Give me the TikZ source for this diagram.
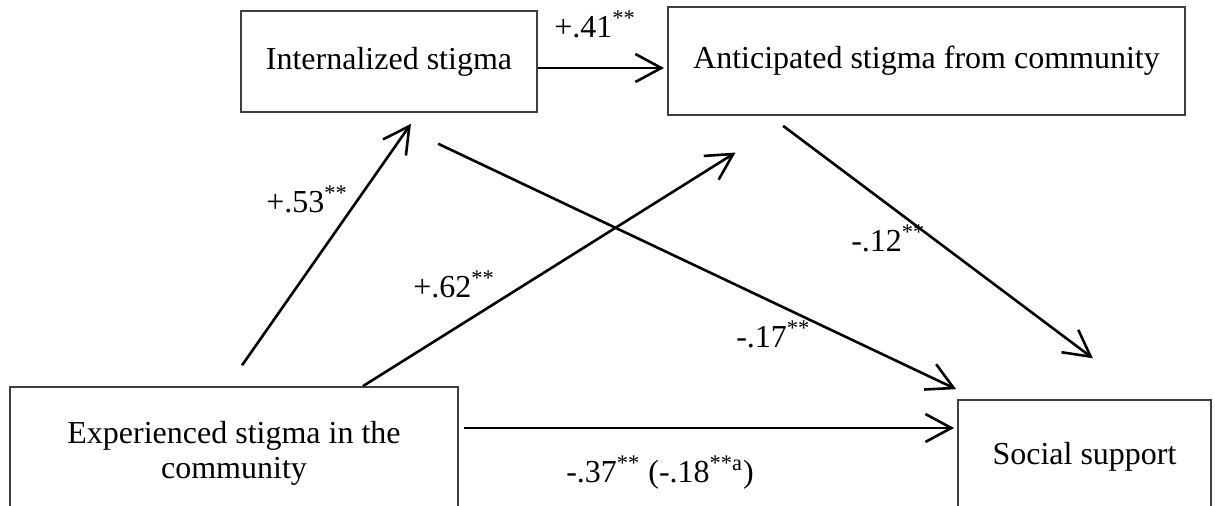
\documentclass[tikz,border=0pt]{standalone}
\usepackage{fontspec}
\setmainfont{Liberation Serif}
\usetikzlibrary{positioning, calc, arrows.meta}

\begin{document}
\begin{tikzpicture}[
    x=0.5pt, y=-0.5pt,
    >={Straight Barb[length=13pt, width=14pt]},
    line width=1.3pt,
    font=\fontsize{16}{17.5}\selectfont,
    box/.style={
        draw=black!75,
        line width=0.9pt,
        align=center,
        inner sep=0pt
    },
    coef/.style={anchor=base west, inner sep=0pt}
]
\clip (0,0) rectangle (1215,506);
\fill[white] (0,0) rectangle (1215,506);

% Variables
\node[box, minimum width=148pt, minimum height=50.5pt] (intern) at (389,61.5) {Internalized stigma};
\node[box, minimum width=258.5pt, minimum height=54pt] (antic) at (926.5,61) {\raisebox{2.5pt}{Anticipated stigma from community}};
\node[box, minimum width=224pt, minimum height=66pt] (exper) at (234,453) {Experienced stigma in the\\community};
\node[box, minimum width=126.5pt, minimum height=57pt] (social) at (1084.5,457) {Social support};

% Edges
\draw[->, shorten <=12.75pt, shorten >=6.7pt] ([xshift=-3.25pt]exper.north) -- ([xshift=14.8pt]intern.south);
\draw[->, shorten >=34.5pt] ([xshift=64.5pt]exper.north) -- ([xshift=-66.25pt]antic.south);
\draw[->, shorten <=36pt, shorten >=11.6pt] ([xshift=-8pt]intern.south) -- ([xshift=10pt]social.north west);
\draw[->, shorten <=8.3pt, shorten >=34pt] ([xshift=-78.35pt]antic.south) -- ([xshift=31.4pt]social.north);
\draw[->, shorten >=1.5pt] ([yshift=-3.25pt]intern.east) -- ([yshift=-3.5pt]antic.west);
\draw[->, shorten <=2.5pt, shorten >=1.5pt] ([yshift=12.5pt]exper.east) -- ([yshift=14.5pt]social.west);

% Path coefficients
\node[coef] (l41) at (553,38) {+.41\textsuperscript{**}};
\node[coef] (l53) at (265,213) {+.53\textsuperscript{**}};
\node[coef] (l62) at (412,298) {+.62\textsuperscript{**}};
\node[coef] (l17) at (735,348) {-.17\textsuperscript{**}};
\node[coef] (l12) at (850,252) {-.12\textsuperscript{**}};
\node[coef] (l37) at (565,483) {-.37\textsuperscript{**} (-.18\textsuperscript{**a})};

\end{tikzpicture}
\end{document}
